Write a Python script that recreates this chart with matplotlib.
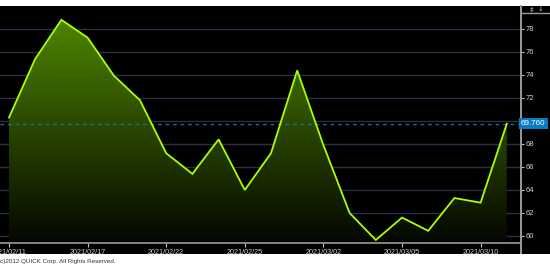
import numpy as np
import matplotlib
matplotlib.use("Agg")
import matplotlib.pyplot as plt
from matplotlib.patches import Polygon

# price series (one point per trading day)
values = [70.3, 75.4, 78.8, 77.25, 73.95, 71.8, 67.2, 65.4, 68.4, 64.0,
          67.2, 74.4, 67.9, 62.0, 59.65, 61.6, 60.45, 63.3, 62.9, 69.76]
tick_idx = [0, 3, 6, 9, 12, 15, 18]
tick_labels = ["2021/02/11", "2021/02/17", "2021/02/22", "2021/02/25",
               "2021/03/02", "2021/03/05", "2021/03/10"]
y_ticks = [60, 62, 64, 66, 68, 70, 72, 74, 76, 78]
last_value = 69.76

W, H = 550, 270
fig = plt.figure(figsize=(W / 100, H / 100), dpi=100, facecolor="white")

# black panel behind the chart
bg = fig.add_axes([0, 16 / H, 1, (254 - 6) / H], zorder=-1)
bg.set_facecolor("black")
bg.set_axis_off()
bg.add_patch(plt.Rectangle((0, 0), 1, 1, transform=bg.transAxes, fc="black", ec="none"))
# right axis line continues down to the panel edge
bg.plot([521 / W, 521 / W], [0, 0.1], transform=bg.transAxes, color="#9a9a9a", lw=1.4)

ax = fig.add_axes([0, 27 / H, 521 / W, (243 - 6) / H], zorder=1)
ax.set_facecolor("black")
x = np.arange(len(values))
ymin, ymax = 59.39, 80.0

for v in y_ticks:
    ax.axhline(v, color="#2a2f44", lw=1.0, zorder=1)

# gradient fill under the line
grad = np.linspace(1, 0, 256).reshape(-1, 1)
top = np.array([82, 140, 0]) / 255
bot = np.array([4, 6, 0]) / 255
img = bot + grad[..., None] * (top - bot)
im = ax.imshow(img, extent=[x[0], x[-1], ymin, ymax], aspect="auto",
               origin="upper", zorder=2)
poly = Polygon(np.column_stack([np.r_[x[0], x, x[-1]], np.r_[ymin, values, ymin]]),
               closed=True, transform=ax.transData)
im.set_clip_path(poly)
ax.set_xlim(-9 / 26.2, (521 - 9) / 26.2)
ax.set_ylim(ymin, ymax)

ax.plot(x, values, color="#aaff00", lw=1.3, zorder=4, solid_joinstyle="miter")
ax.axhline(last_value, color="#1a6fa8", lw=0.9, ls=(0, (3, 3)), zorder=3)

# axes styling
for s in ["top", "left"]:
    ax.spines[s].set_visible(False)
ax.spines["bottom"].set_color("#9a9a9a")
ax.spines["right"].set_color("#9a9a9a")
ax.spines["bottom"].set_linewidth(1.2)
ax.spines["right"].set_linewidth(1.4)
ax.yaxis.tick_right()
ax.set_yticks(y_ticks)
ax.set_yticklabels(["" if v == 70 else str(v) for v in y_ticks])
ax.set_xticks(tick_idx)
ax.set_xticklabels(tick_labels)
ax.tick_params(axis="y", colors="#bfbfbf", labelsize=5.5, length=2, width=0.8, pad=1,
               labelfontfamily="Liberation Sans")
ax.tick_params(axis="x", colors="#bfbfbf", labelsize=5.2, length=3, width=0.8, pad=1,
               direction="out", labelfontfamily="Liberation Sans")
for t in ax.get_xticklabels() + ax.get_yticklabels():
    t.set_color("#d0d0d0")

# last value tag
ax.text(1.0, last_value, "69.760", transform=ax.get_yaxis_transform(), ha="left",
        va="center", fontsize=5.8, color="white", family="Liberation Sans", zorder=6,
        clip_on=False, bbox=dict(boxstyle="square,pad=0.25", fc="#0b7bc0", ec="none"))

# top-right controls
fig.add_artist(plt.Line2D([521 / W, 1], [1 - 13 / H, 1 - 13 / H], color="#9a9a9a", lw=1.0))
fig.text(532 / W, 1 - 9 / H, "‡", fontsize=5, color="#bfbfbf", ha="center", va="center")
fig.text(541 / W, 1 - 9 / H, "↓", fontsize=5, color="#bfbfbf", ha="center", va="center")

fig.text(-2 / W, 8 / H, "(c)2012 QUICK Corp. All Rights Reserved.", fontsize=4.5,
         color="#333333", family="Liberation Sans", ha="left", va="center")

fig.savefig("out.png", dpi=100, facecolor="white")
